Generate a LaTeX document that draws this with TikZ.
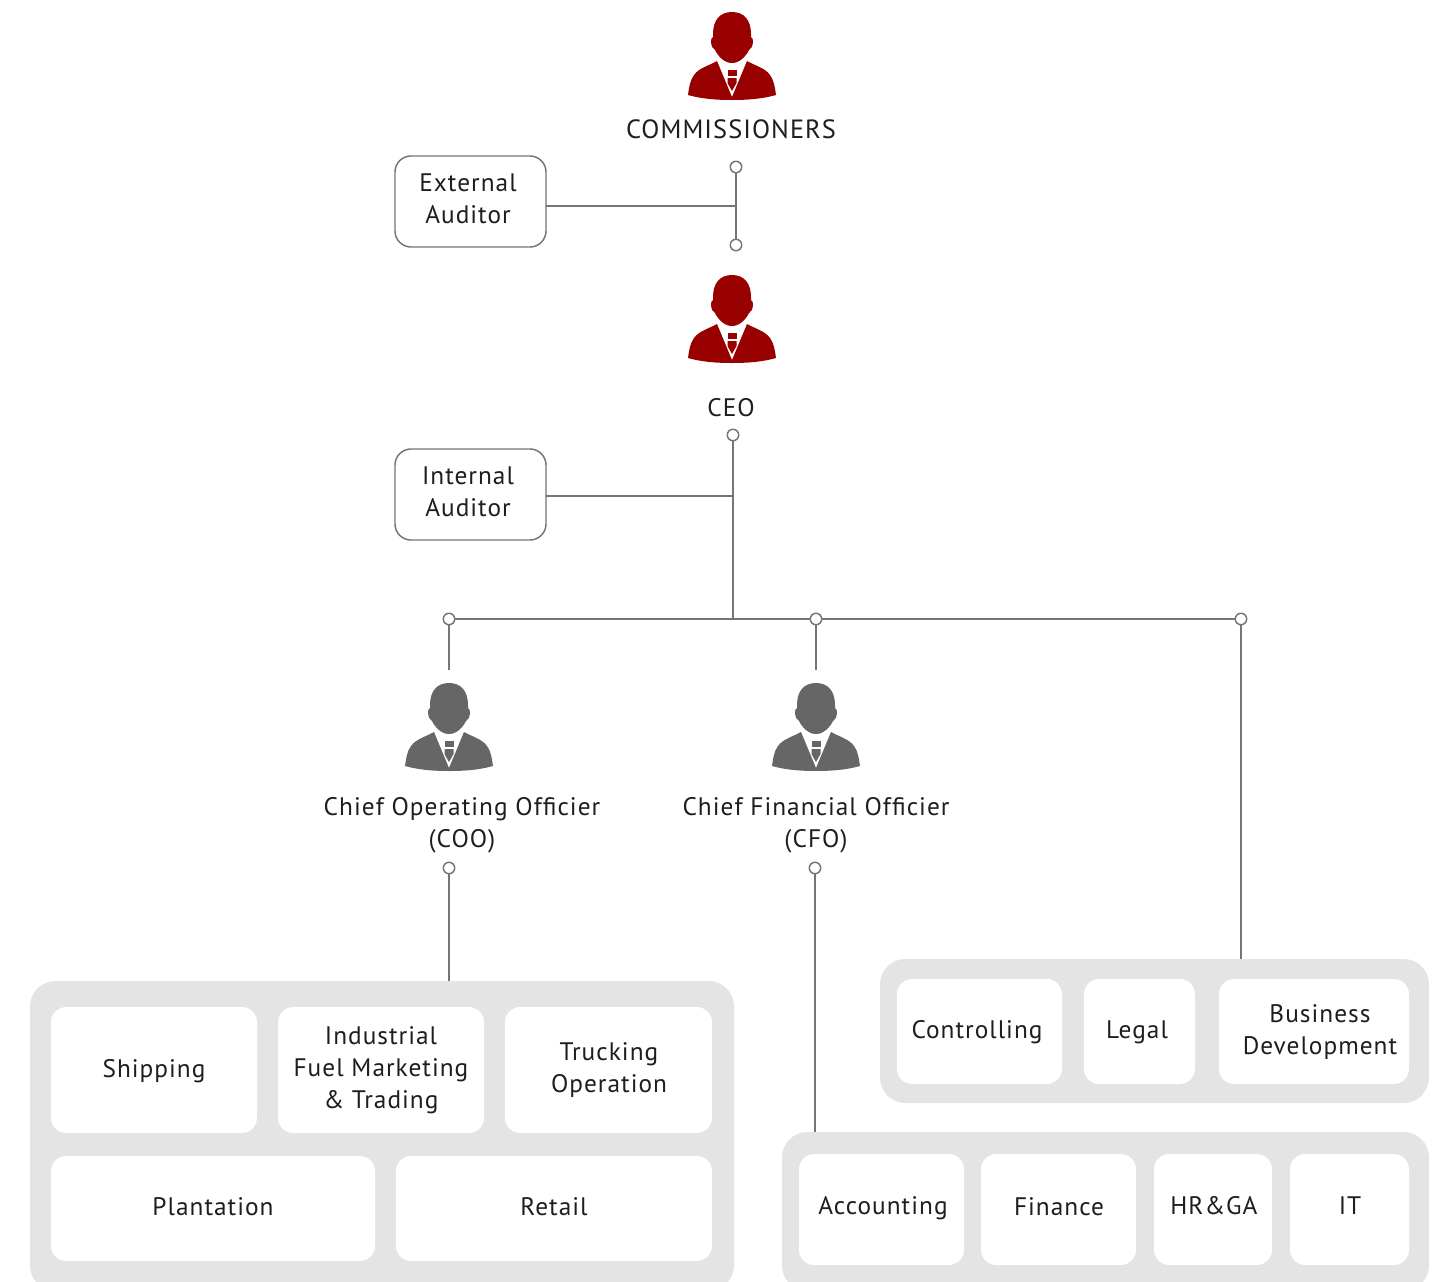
\documentclass[tikz,border=0pt]{standalone}
\usepackage{fontspec}
\setmainfont[LetterSpace=4]{PT Sans}
\definecolor{ink}{HTML}{1E1E1E}
\definecolor{wire}{HTML}{757575}
\definecolor{panelgrey}{HTML}{E4E4E4}
\definecolor{iconred}{HTML}{990000}
\definecolor{icongrey}{HTML}{666666}
\tikzset{
  txt/.style={text=ink,font=\fontsize{19}{24}\selectfont,align=center,inner sep=0,outer sep=0},
  bigtxt/.style={txt,font=\fontsize{19.8}{24}\selectfont},
  conn/.style={draw=wire,line width=1.1pt},
  dot/.style={circle,draw=wire,fill=white,line width=1.1pt,minimum size=8.6pt,inner sep=0,outer sep=0},
  audit/.style={draw=wire,fill=white,line width=1.1pt,rounded corners=12pt},
  panel/.style={fill=panelgrey,rounded corners=19pt},
  unit/.style={fill=white,rounded corners=11.5pt},
  person/.pic={
    \fill[pic actions] (0,0) .. controls (-12,0) and (-19,8) .. (-19,22)
      -- (-19,25) .. controls (-22,25) and (-22,36) .. (-17,38)
      .. controls (-14,44) and (-8,51) .. (0,51)
      .. controls (8,51) and (14,44) .. (17,38)
      .. controls (22,36) and (22,25) .. (19,25)
      -- (19,22) .. controls (19,8) and (12,0) .. (0,0) -- cycle;
    \fill[pic actions] (-15,49) .. controls (-24,54) and (-33,56) .. (-38,63)
      .. controls (-42,68) and (-43,76) .. (-44,83)
      .. controls (-30,87) and (-15,88) .. (0,88)
      .. controls (15,88) and (30,87) .. (44,83)
      .. controls (43,76) and (42,68) .. (38,63)
      .. controls (33,56) and (24,54) .. (15,49)
      -- (0,85) -- cycle;
    \fill[pic actions] (-4.5,58) rectangle (4.5,64);
    \fill[pic actions] (-4.5,66) -- (4.5,66) -- (4.5,71) -- (0,79) -- (-4.5,71) -- cycle;
  }
}
\newcommand\bx[6]{%
  \pgfmathsetmacro\bxw{(#4-#2)*0.75}%
  \pgfmathsetmacro\bxh{(#5-#3)*0.75}%
  \node[#6,minimum width=\bxw pt,minimum height=\bxh pt,inner sep=0,outer sep=0] (#1) at ({(#2+#4)/2},{(#3+#5)/2}) {};}
\begin{document}
\begin{tikzpicture}[x=0.75pt,y=-0.75pt]
\useasboundingbox (0,0) rectangle (1440,1282);
\clip (0,0) rectangle (1440,1282);
% panels
\bx{opspanel}{30}{981}{734}{1291}{panel}
\bx{staffpanel}{880}{959}{1429}{1103}{panel}
\bx{finpanel}{782}{1132}{1429}{1291}{panel}
% unit boxes
\bx{shipbox}{51}{1007}{257}{1133}{unit}
\bx{fuelbox}{278}{1007}{484}{1133}{unit}
\bx{truckbox}{505}{1007}{712}{1133}{unit}
\bx{plantbox}{51}{1156}{375}{1261}{unit}
\bx{retailbox}{396}{1156}{712}{1261}{unit}
\bx{ctrlbox}{897}{979}{1062}{1084}{unit}
\bx{legalbox}{1084}{979}{1195}{1084}{unit}
\bx{bizbox}{1219}{979}{1409}{1084}{unit}
\bx{acctbox}{799}{1154}{964}{1265}{unit}
\bx{financebox}{981}{1154}{1136}{1265}{unit}
\bx{hrbox}{1154}{1154}{1272}{1265}{unit}
\bx{itbox}{1290}{1154}{1409}{1265}{unit}
% auditors
\bx{extbox}{395}{156}{546}{247}{audit}
\bx{intbox}{395}{449}{546}{540}{audit}
% junctions
\coordinate (extjoin) at (736,206);
\coordinate (intjoin) at (733,496);
\coordinate (busjoin) at (733,619);
\coordinate (cooicon) at (449,670);
\coordinate (cfoicon) at (816,670);
% dots
\node[dot] (commdot) at (736,167) {};
\node[dot] (ceotop) at (736,245) {};
\node[dot] (ceodot) at (733,435) {};
\node[dot] (coodot) at (449,619) {};
\node[dot] (cfodot) at (816,619) {};
\node[dot] (staffdot) at (1241,619) {};
\node[dot] (cooout) at (449,868) {};
\node[dot] (cfoout) at (815,868) {};
% connectors
\draw[conn] (commdot) -- (ceotop);
\draw[conn] (extjoin -| extbox.east) -- (extjoin);
\draw[conn] (ceodot) -- (busjoin);
\draw[conn] (intjoin -| intbox.east) -- (intjoin);
\draw[conn] (coodot) -- (cfodot);
\draw[conn] (cfodot) -- (staffdot);
\draw[conn] (coodot) -- (cooicon);
\draw[conn] (cfodot) -- (cfoicon);
\draw[conn] (staffdot) -- (staffdot |- staffpanel.north);
\draw[conn] (cooout) -- (cooout |- opspanel.north);
\draw[conn] (cfoout) -- (cfoout |- finpanel.north);
% icons
\pic[fill=iconred] at (732,12) {person};
\pic[fill=iconred] at (732,275) {person};
\pic[fill=icongrey] at (449,683) {person};
\pic[fill=icongrey] at (816,683) {person};
% texts
\node[bigtxt] (commtxt) at (731,129) {COMMISSIONERS};
\node[txt] (ceotxt) at (731,408) {CEO};
\node[txt] (exttxt) at (468,199) {External\\Auditor};
\node[txt] (inttxt) at (468,492) {Internal\\Auditor};
\node[txt] (cootxt) at (462,825) {Chief Operating Officier\\(COO)};
\node[txt] (cfotxt) at (816,825) {Chief Financial Officier\\(CFO)};
\node[txt] (shiptxt) at (154,1071) {Shipping};
\node[txt] (fueltxt) at (381,1070) {Industrial\\Fuel Marketing\\\& Trading};
\node[txt] (trucktxt) at (609,1070) {Trucking\\Operation};
\node[txt] (planttxt) at (213,1207) {Plantation};
\node[txt] (retailtxt) at (554,1207) {Retail};
\node[txt] (ctrltxt) at (977,1032) {Controlling};
\node[txt] (legaltxt) at (1137,1032) {Legal};
\node[txt] (biztxt) at (1320,1032) {Business\\Development};
\node[txt] (accttxt) at (883,1208) {Accounting};
\node[txt] (financetxt) at (1059,1207) {Finance};
\node[txt] (hrtxt) at (1214,1206) {HR\&GA};
\node[txt] (ittxt) at (1350,1206) {IT};
\end{tikzpicture}
\end{document}
